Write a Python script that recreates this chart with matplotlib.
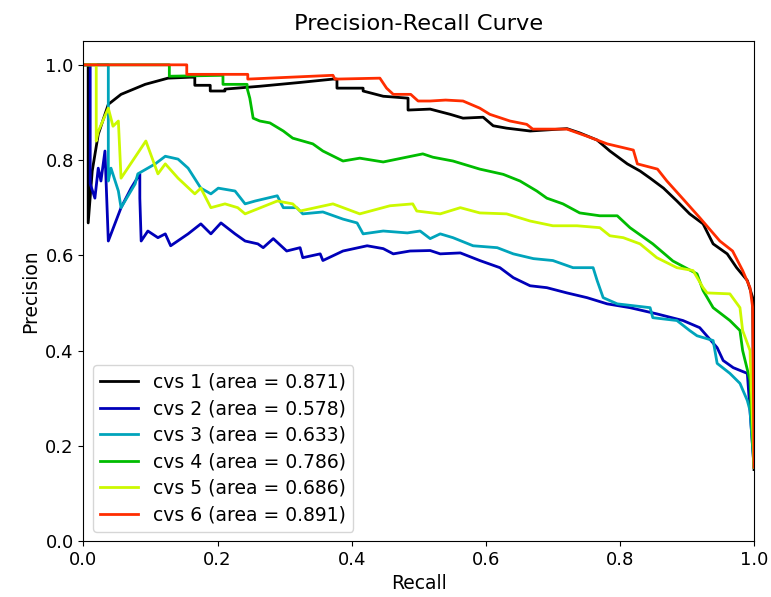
import numpy as np
import matplotlib.pyplot as plt

# (recall, precision) points, one pair of lists per fold
rec_1 = [0, 0.007, 0.007, 0.013, 0.022, 0.037, 0.056, 0.092, 0.126, 0.159, 0.166, 0.166,
         0.189, 0.189, 0.211, 0.211, 0.263, 0.323, 0.372, 0.378, 0.378, 0.417, 0.417, 0.447,
         0.484, 0.484, 0.517, 0.547, 0.566, 0.596, 0.611, 0.631, 0.666, 0.721, 0.740, 0.766,
         0.785, 0.811, 0.830, 0.845, 0.865, 0.885, 0.904, 0.924, 0.939, 0.960, 0.974, 0.990,
         0.998, 1.0]
prec_1 = [1.0, 1.0, 0.668, 0.777, 0.854, 0.917, 0.938, 0.959, 0.972, 0.974, 0.974, 0.957,
          0.957, 0.945, 0.945, 0.949, 0.955, 0.963, 0.970, 0.970, 0.951, 0.951, 0.945, 0.934,
          0.930, 0.905, 0.907, 0.896, 0.888, 0.890, 0.872, 0.867, 0.861, 0.866, 0.857, 0.842,
          0.819, 0.792, 0.777, 0.762, 0.741, 0.714, 0.687, 0.666, 0.624, 0.603, 0.574, 0.547,
          0.511, 0.15]

rec_2 = [0, 0.010, 0.010, 0.017, 0.022, 0.026, 0.032, 0.037, 0.056, 0.071, 0.084, 0.084,
         0.086, 0.096, 0.111, 0.122, 0.130, 0.156, 0.175, 0.190, 0.205, 0.226, 0.241, 0.260,
         0.268, 0.283, 0.303, 0.323, 0.327, 0.353, 0.357, 0.387, 0.423, 0.447, 0.462, 0.487,
         0.517, 0.532, 0.562, 0.591, 0.621, 0.641, 0.666, 0.691, 0.721, 0.751, 0.781, 0.815,
         0.855, 0.894, 0.919, 0.945, 0.954, 0.969, 0.990, 1.0]
prec_2 = [1.0, 1.0, 0.75, 0.72, 0.783, 0.756, 0.819, 0.63, 0.70, 0.741, 0.771, 0.72,
          0.63, 0.651, 0.637, 0.645, 0.62, 0.645, 0.666, 0.645, 0.668, 0.645, 0.63, 0.624,
          0.616, 0.635, 0.609, 0.616, 0.595, 0.603, 0.589, 0.609, 0.62, 0.614, 0.603, 0.609,
          0.610, 0.603, 0.605, 0.589, 0.574, 0.553, 0.536, 0.532, 0.521, 0.511, 0.498, 0.490,
          0.477, 0.463, 0.448, 0.406, 0.379, 0.364, 0.352, 0.155]

rec_3 = [0, 0.037, 0.037, 0.041, 0.052, 0.056, 0.077, 0.081, 0.107, 0.122, 0.141, 0.156,
         0.175, 0.190, 0.201, 0.226, 0.241, 0.256, 0.289, 0.298, 0.318, 0.327, 0.357, 0.387,
         0.408, 0.417, 0.447, 0.483, 0.502, 0.517, 0.532, 0.551, 0.581, 0.617, 0.641, 0.671,
         0.700, 0.730, 0.760, 0.766, 0.775, 0.796, 0.845, 0.849, 0.885, 0.904, 0.915, 0.939,
         0.945, 0.964, 0.979, 0.990, 0.994, 1.0]
prec_3 = [1.0, 1.0, 0.756, 0.783, 0.735, 0.70, 0.75, 0.771, 0.792, 0.808, 0.802, 0.783,
          0.741, 0.729, 0.741, 0.735, 0.708, 0.714, 0.725, 0.70, 0.70, 0.687, 0.691, 0.676,
          0.668, 0.645, 0.651, 0.647, 0.651, 0.635, 0.645, 0.637, 0.620, 0.616, 0.603, 0.593,
          0.589, 0.574, 0.574, 0.547, 0.511, 0.498, 0.490, 0.469, 0.463, 0.442, 0.431, 0.421,
          0.373, 0.352, 0.331, 0.295, 0.274, 0.155]

rec_4 = [0, 0.128, 0.128, 0.208, 0.208, 0.244, 0.244, 0.248, 0.253, 0.263, 0.278, 0.298,
         0.312, 0.327, 0.342, 0.357, 0.387, 0.412, 0.447, 0.506, 0.521, 0.551, 0.591, 0.626,
         0.651, 0.676, 0.691, 0.715, 0.740, 0.770, 0.796, 0.815, 0.849, 0.879, 0.915, 0.924,
         0.939, 0.964, 0.979, 0.983, 0.994, 0.997, 1.0]
prec_4 = [1.0, 1.0, 0.976, 0.978, 0.959, 0.959, 0.951, 0.93, 0.888, 0.882, 0.878, 0.861,
          0.846, 0.840, 0.834, 0.819, 0.798, 0.804, 0.796, 0.813, 0.806, 0.798, 0.781, 0.770,
          0.756, 0.735, 0.720, 0.708, 0.689, 0.683, 0.683, 0.658, 0.624, 0.588, 0.561, 0.526,
          0.490, 0.463, 0.442, 0.400, 0.337, 0.239, 0.155]

rec_5 = [0, 0.019, 0.019, 0.022, 0.037, 0.044, 0.052, 0.056, 0.093, 0.111, 0.122, 0.141,
         0.166, 0.175, 0.190, 0.211, 0.230, 0.241, 0.289, 0.312, 0.323, 0.372, 0.412, 0.457,
         0.491, 0.497, 0.532, 0.562, 0.591, 0.631, 0.666, 0.700, 0.736, 0.770, 0.785, 0.805,
         0.830, 0.855, 0.885, 0.909, 0.924, 0.930, 0.964, 0.979, 0.983, 0.994, 1.0]
prec_5 = [1.0, 1.0, 0.84, 0.86, 0.909, 0.871, 0.882, 0.762, 0.84, 0.771, 0.792, 0.762,
          0.729, 0.741, 0.70, 0.708, 0.70, 0.687, 0.714, 0.708, 0.693, 0.708, 0.687, 0.704,
          0.708, 0.693, 0.687, 0.70, 0.689, 0.687, 0.672, 0.662, 0.662, 0.658, 0.641, 0.637,
          0.624, 0.595, 0.574, 0.568, 0.532, 0.521, 0.519, 0.490, 0.442, 0.400, 0.155]

rec_6 = [0, 0.154, 0.154, 0.245, 0.245, 0.372, 0.375, 0.442, 0.452, 0.462, 0.488, 0.499,
         0.517, 0.540, 0.566, 0.591, 0.606, 0.636, 0.661, 0.670, 0.721, 0.751, 0.781, 0.820,
         0.826, 0.856, 0.870, 0.893, 0.919, 0.949, 0.968, 0.983, 0.994, 0.998, 1.0]
prec_6 = [1.0, 1.0, 0.98, 0.98, 0.97, 0.978, 0.97, 0.972, 0.951, 0.938, 0.938, 0.924,
          0.924, 0.926, 0.924, 0.909, 0.896, 0.882, 0.875, 0.865, 0.865, 0.85, 0.834, 0.821,
          0.792, 0.781, 0.756, 0.72, 0.679, 0.63, 0.609, 0.568, 0.532, 0.49, 0.155]

recalls = [rec_1, rec_2, rec_3, rec_4, rec_5, rec_6]
precisions = [prec_1, prec_2, prec_3, prec_4, prec_5, prec_6]
areas = [0.871, 0.578, 0.633, 0.786, 0.686, 0.891]

plt.rcParams['font.size'] = 13.5
plt.rcParams['xtick.labelsize'] = 13
plt.rcParams['ytick.labelsize'] = 13

fig = plt.figure(figsize=(7.71, 5.97), dpi=100)
ax = fig.add_axes([0.1083, 0.0938, 0.8697, 0.8375])

n = len(recalls)
for i, (r, p, a) in enumerate(zip(recalls, precisions, areas)):
    col = plt.cm.nipy_spectral(float(i) / n)
    ax.plot(r, p, color=col, lw=2, label=f'cvs {i + 1} (area = {a:.3f})')

ax.set_xlim([0.0, 1.0])
ax.set_ylim([0.0, 1.05])
ax.set_xlabel('Recall')
ax.set_ylabel('Precision')
ax.set_title('Precision-Recall Curve', pad=8)
ax.legend(loc='lower left', labelspacing=0.4)

fig.savefig('out.png', dpi=100)
